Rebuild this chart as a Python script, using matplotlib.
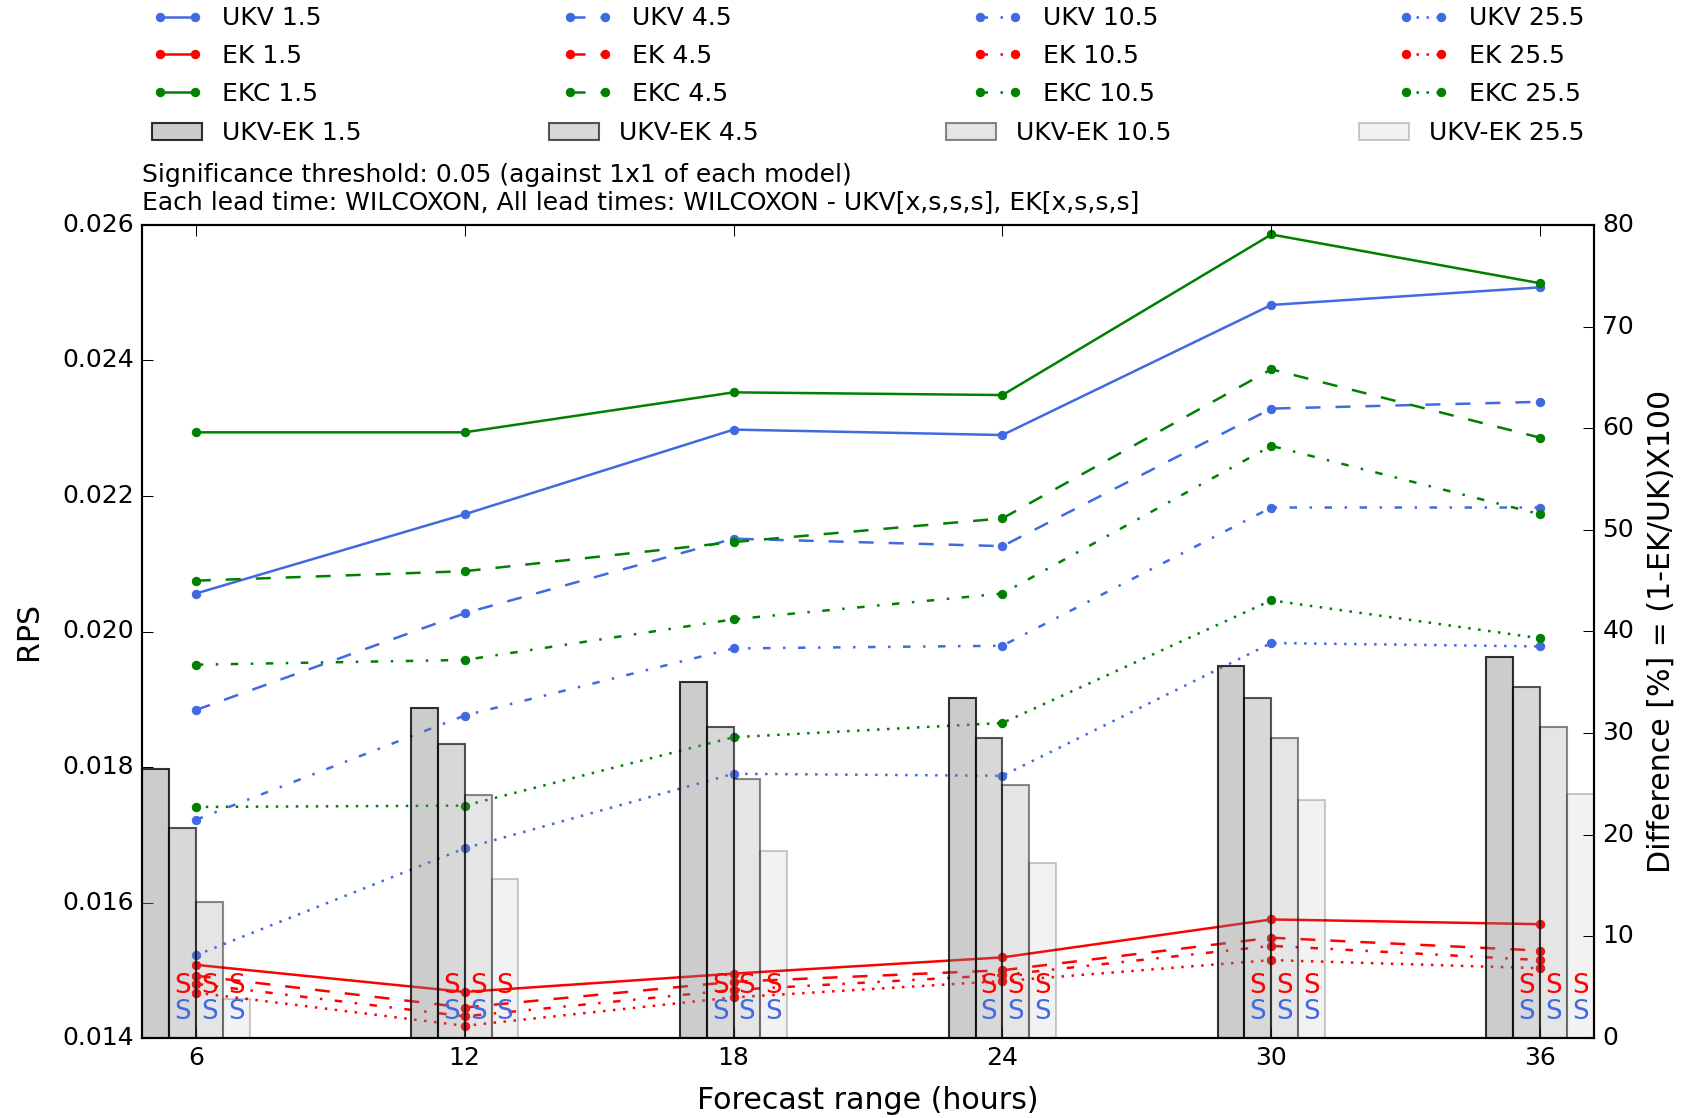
import matplotlib

matplotlib.use("Agg")
import matplotlib.pyplot as plt

plt.style.use("classic")
plt.rcParams["figure.facecolor"] = "white"
plt.rcParams["savefig.facecolor"] = "white"
plt.rcParams["font.family"] = ["DejaVu Sans"]
plt.rcParams["lines.scale_dashes"] = True

hours = [6, 12, 18, 24, 30, 36]
lead_labels = ["1.5", "4.5", "10.5", "25.5"]

# RPS per lead time (left axis)
ukv = {
    "1.5": [0.02056, 0.02173, 0.02298, 0.02290, 0.02482, 0.02508],
    "4.5": [0.01884, 0.02027, 0.02137, 0.02126, 0.02329, 0.02339],
    "10.5": [0.01722, 0.01876, 0.01975, 0.01979, 0.02183, 0.02183],
    "25.5": [0.01522, 0.01680, 0.01790, 0.01787, 0.01983, 0.01978],
}
ek = {
    "1.5": [0.01508, 0.01468, 0.01495, 0.01519, 0.01575, 0.01568],
    "4.5": [0.01492, 0.01445, 0.01483, 0.01500, 0.01548, 0.01529],
    "10.5": [0.01480, 0.01432, 0.01471, 0.01493, 0.01536, 0.01515],
    "25.5": [0.01467, 0.01418, 0.01460, 0.01484, 0.01515, 0.01503],
}
ekc = {
    "1.5": [0.02294, 0.02294, 0.02353, 0.02349, 0.02586, 0.02514],
    "4.5": [0.02075, 0.02089, 0.02132, 0.02167, 0.02387, 0.02286],
    "10.5": [0.01951, 0.01958, 0.02018, 0.02056, 0.02274, 0.02173],
    "25.5": [0.01741, 0.01743, 0.01844, 0.01865, 0.02046, 0.01990],
}
# UKV-EK difference in % (right axis)
diff = {
    "1.5": [26.5, 32.5, 35.0, 33.5, 36.6, 37.5],
    "4.5": [20.7, 28.9, 30.6, 29.5, 33.5, 34.5],
    "10.5": [13.4, 23.9, 25.5, 24.9, 29.5, 30.6],
    "25.5": [3.8, 15.6, 18.4, 17.2, 23.4, 24.0],
}
# significance flags per lead time: x = not significant, s = significant
sig_ukv = ["x", "s", "s", "s"]
sig_ek = ["x", "s", "s", "s"]

styles = {"1.5": "-", "4.5": "--", "10.5": "-.", "25.5": ":"}
bar_face = {"1.5": 0.40, "4.5": 0.30, "10.5": 0.20, "25.5": 0.10}
bar_edge = {"1.5": 0.80, "4.5": 0.65, "10.5": 0.45, "25.5": 0.20}
c_ukv, c_ek, c_ekc = "royalblue", "red", "green"

W, H = 1693, 1118
fig = plt.figure(figsize=(W / 150, H / 150), dpi=150)
ax = fig.add_axes([142 / W, 80 / H, 1452 / W, 813 / H])
ax2 = ax.twinx()

line_handles = []
for lt in lead_labels:
    for name, data, col in (("UKV", ukv, c_ukv), ("EK", ek, c_ek), ("EKC", ekc, c_ekc)):
        (h,) = ax.plot(hours, data[lt], ls=styles[lt], color=col, lw=1.2,
                       marker="o", ms=4, mec=col, mfc=col, label=f"{name} {lt}")
        line_handles.append(h)

bw = 0.6
bar_handles = []
for i, lt in enumerate(lead_labels):
    xs = [h - 2 * bw + i * bw for h in hours]
    b = ax2.bar(xs, diff[lt], width=bw, align="edge",
                facecolor=(0.5, 0.5, 0.5, bar_face[lt]),
                edgecolor=(0, 0, 0, bar_edge[lt]), lw=1.0,
                label=f"UKV-EK {lt}")
    bar_handles.append(b)
    if i > 0:
        for xc in xs:
            if sig_ek[i] == "s":
                ax2.text(xc + bw / 2, 5.1, "S", color=c_ek, ha="center",
                         va="center", fontsize=12.5)
            if sig_ukv[i] == "s":
                ax2.text(xc + bw / 2, 2.6, "S", color=c_ukv, ha="center",
                         va="center", fontsize=12.5)

ax.set_xlim(4.8, 37.2)
ax.set_ylim(0.014, 0.026)
ax2.set_ylim(0, 80)
ax.set_xticks(hours)
ax.set_yticks([0.014, 0.016, 0.018, 0.020, 0.022, 0.024, 0.026])
ax.set_yticklabels(["0.014", "0.016", "0.018", "0.020", "0.022", "0.024", "0.026"])
ax2.set_yticks(range(0, 81, 10))
for a in (ax, ax2):
    a.tick_params(direction="in", length=5.5, labelsize=12)

ax.set_xlabel("Forecast range (hours)", fontsize=14.4, labelpad=7.5)
ax.set_ylabel("RPS", fontsize=14.4, labelpad=9)
ax2.set_ylabel("Difference [%] = (1-EK/UK)X100", fontsize=14.4, labelpad=6)

ax.text(0, 1.013,
        "Significance threshold: 0.05 (against 1x1 of each model)\n"
        "Each lead time: WILCOXON, All lead times: WILCOXON - UKV[x,s,s,s], EK[x,s,s,s]",
        transform=ax.transAxes, ha="left", va="bottom", fontsize=12)

box_l, box_w = 142 / W, 1452 / W
fig.legend(handles=line_handles, ncol=4, mode="expand", loc="center",
           bbox_to_anchor=(box_l, 1 - 56 / H, box_w, 0), frameon=False,
           fontsize=12, numpoints=2, handlelength=2, labelspacing=0.55,
           borderaxespad=0)
fig.legend(handles=bar_handles, ncol=4, mode="expand", loc="center",
           bbox_to_anchor=(box_l, 1 - 133 / H, box_w, 0), frameon=False,
           fontsize=12, handlelength=2, borderaxespad=0)

fig.savefig("out.png", dpi=150)
